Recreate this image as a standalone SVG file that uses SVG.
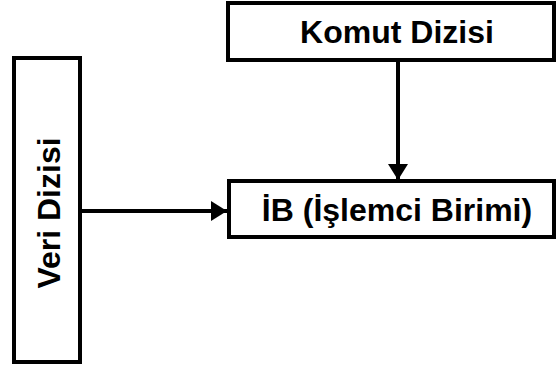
<svg xmlns="http://www.w3.org/2000/svg" width="560" height="371" viewBox="0 0 560 371">
  <style>
    .box { fill: #ffffff; stroke: #000000; stroke-width: 4; }
    .lbl { font-family: "Liberation Sans", Arial, sans-serif; font-weight: bold; font-size: 32px; fill: #000000; }
    .wire { stroke: #000000; stroke-width: 4; fill: none; }
  </style>
  <defs>
    <marker id="head" markerUnits="userSpaceOnUse" markerWidth="16" markerHeight="20" refX="16" refY="10" orient="auto">
      <path d="M0,0 L16,10 L0,20 Z" fill="#000000"/>
    </marker>
  </defs>
  <rect width="560" height="371" fill="#ffffff"/>
  <g id="komut-dizisi">
    <rect class="box" x="228" y="3" width="326" height="57"/>
    <text class="lbl" x="397" y="43" text-anchor="middle">Komut Dizisi</text>
  </g>
  <g id="veri-dizisi">
    <rect class="box" x="14" y="58" width="66" height="304"/>
    <text class="lbl" transform="translate(60,213) rotate(-90)" text-anchor="middle">Veri Dizisi</text>
  </g>
  <g id="islemci-birimi">
    <rect class="box" x="229" y="181" width="325" height="56"/>
    <text class="lbl" x="397" y="221" text-anchor="middle">İB (İşlemci Birimi)</text>
  </g>
  <g id="connectors">
    <line class="wire" x1="398" y1="60" x2="398" y2="180" marker-end="url(#head)"/>
    <line class="wire" x1="80" y1="211" x2="227" y2="211" marker-end="url(#head)"/>
  </g>
</svg>
